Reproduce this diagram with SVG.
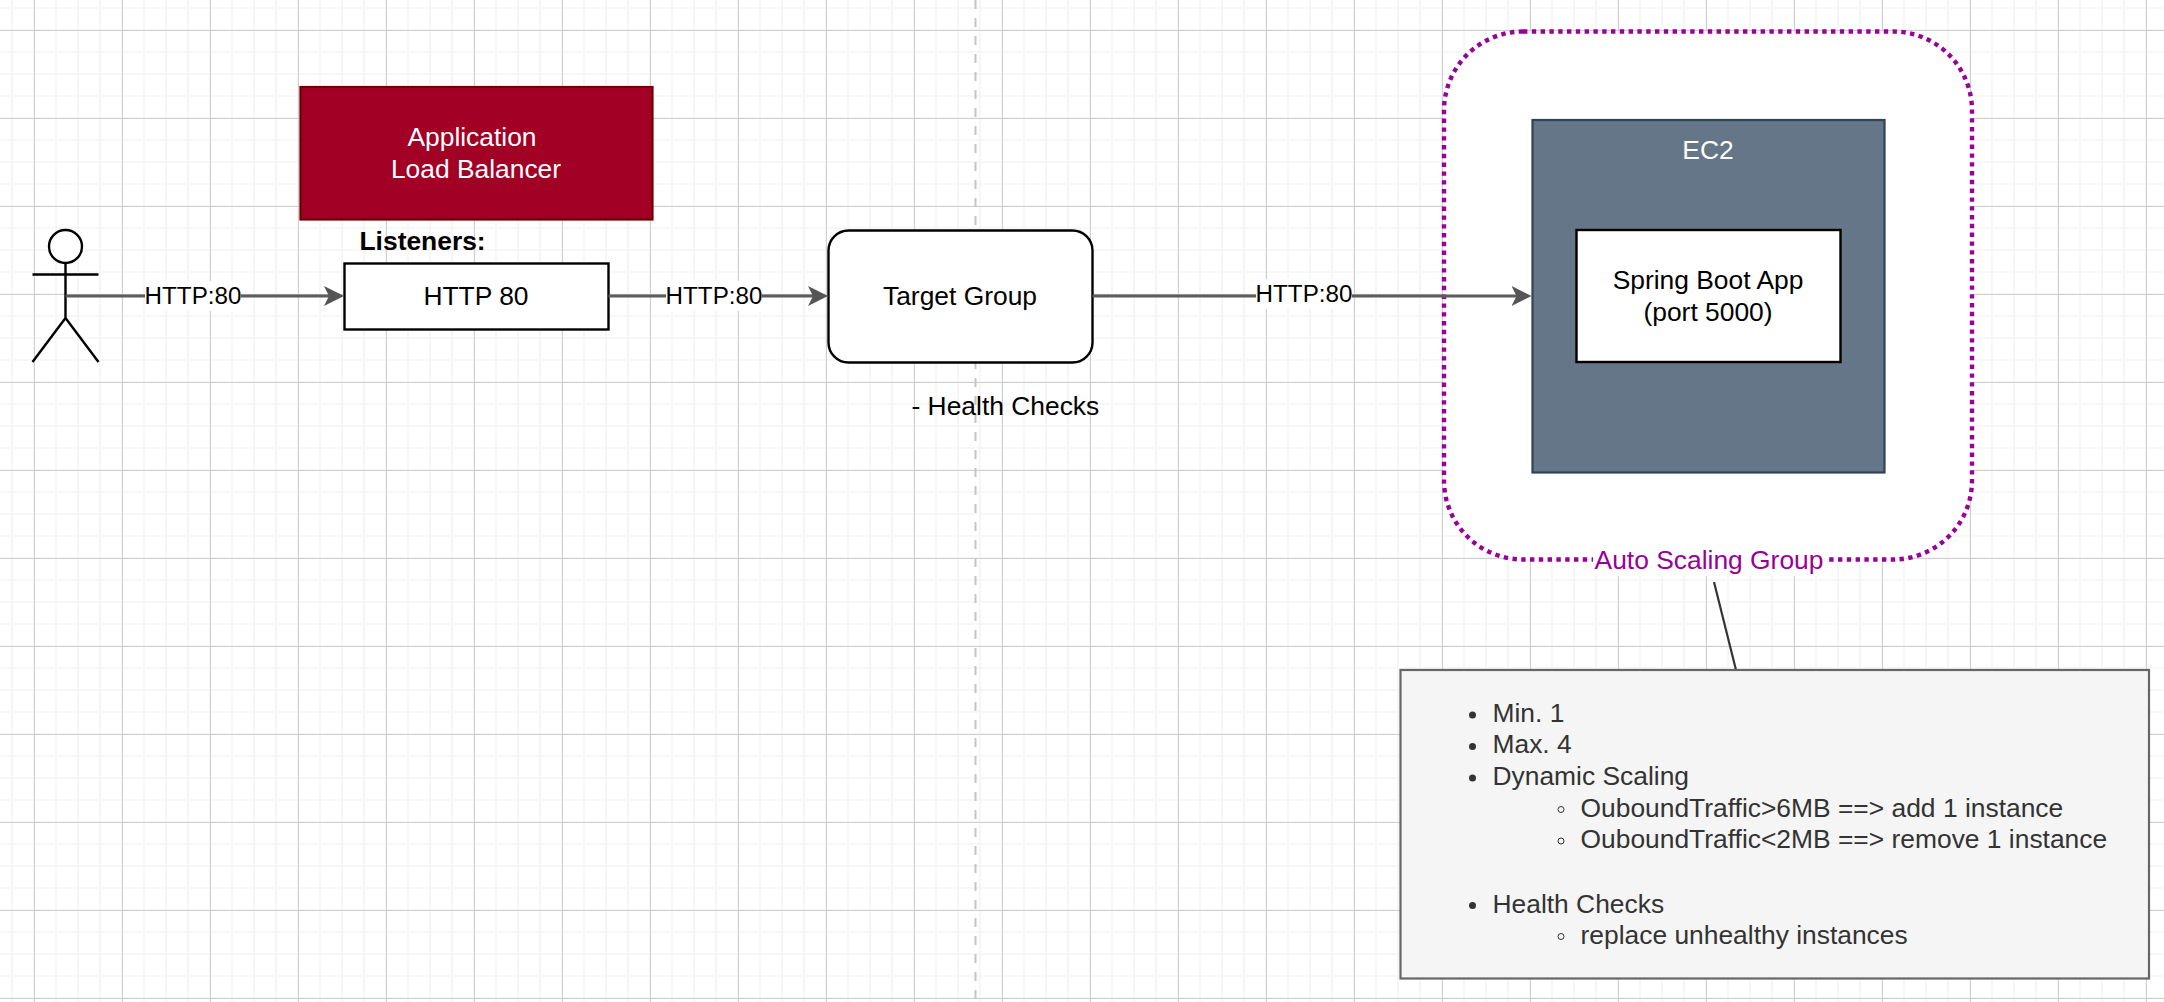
<svg xmlns="http://www.w3.org/2000/svg" width="2164" height="1002" viewBox="0 0 2164 1002">
<style>
text{font-family:"Liberation Sans",Arial,sans-serif;font-size:26.4px;fill:#000}
.c{text-anchor:middle}
.lbl{font-size:24.2px}
.note text{fill:#333}
.box{fill:#fff;stroke:#000;stroke-width:2.4}
.conn{fill:none;stroke:#5c5c5c;stroke-width:2.8}
</style>
<defs>
<pattern id="grid" x="1" y="-3" width="88" height="88" patternUnits="userSpaceOnUse">
<path d="M11 0V88M33 0V88M55 0V88M77 0V88M0 11H88M0 33H88M0 55H88M0 77H88" fill="none" stroke="#f5f5f5" stroke-width="1.7"/>
<path d="M33.500 0V88M0 33.500H88" fill="none" stroke="#cfcfcf" stroke-width="1"/>
</pattern>
<marker id="arrow" markerUnits="userSpaceOnUse" markerWidth="22" markerHeight="22" refX="16" refY="10" orient="auto">
<path d="M0 0L20 10L0 20L5 10Z" fill="#555"/>
</marker>
</defs>
<rect width="2164" height="1002" fill="#fff"/>
<rect width="2164" height="1002" fill="url(#grid)"/>
<line id="divider" x1="975.500" y1="0" x2="975.500" y2="1002" stroke="#c4c4c4" stroke-width="2" stroke-dasharray="9 9"/>
<g id="asg"><rect x="1444" y="31.500" width="528" height="528" rx="79" ry="79" fill="#fff" stroke="#990099" stroke-width="4.400" stroke-dasharray="4.400 4.400"/>
<rect x="1593" y="546" width="232" height="30" fill="#fff"/>
<text x="1709" y="569" class="c" style="fill:#990099">Auto Scaling Group</text></g>
<g id="ec2"><rect x="1532.500" y="120" width="352" height="352.500" fill="#647687" stroke="#314354" stroke-width="2.200"/>
<text x="1708" y="159" class="c" style="fill:#fff">EC2</text></g>
<g id="app"><rect class="box" x="1576.500" y="230" width="264" height="132"/>
<text x="1708" y="289" class="c">Spring Boot App</text><text x="1708" y="321" class="c">(port 5000)</text></g>
<g id="alb"><rect x="300.500" y="87" width="352" height="132.500" fill="#a20025" stroke="#6f0000" stroke-width="2.200"/>
<text x="472" y="146" class="c" style="fill:#fff">Application</text><text x="476" y="178" class="c" style="fill:#fff">Load Balancer</text></g>
<g id="listeners-title"><text x="359.500" y="250" style="font-weight:bold">Listeners:</text></g>
<g id="listener"><rect class="box" x="344.500" y="263.500" width="264" height="66"/>
<text x="476" y="305" class="c">HTTP 80</text></g>
<g id="target-group"><rect class="box" x="828.500" y="230.500" width="264" height="132" rx="20" ry="20"/>
<text x="960" y="305" class="c">Target Group</text></g>
<g id="health-label"><text x="911.500" y="415">- Health Checks</text></g>
<g id="actor" fill="none" stroke="#000" stroke-width="2.400"><ellipse cx="65.500" cy="246.500" rx="16.500" ry="16.500" fill="#fff"/><path d="M65.500 263V318M32.500 274.500H98.500M32.500 362L65.500 318L98.500 362"/></g>
<g id="connectors">
<line class="conn" x1="65.500" y1="296" x2="340" y2="296" marker-end="url(#arrow)"/>
<line class="conn" x1="608.500" y1="296" x2="824" y2="296" marker-end="url(#arrow)"/>
<line class="conn" x1="1092.500" y1="296" x2="1527.500" y2="296" marker-end="url(#arrow)"/>
<line x1="1714" y1="582" x2="1736" y2="670" stroke="#333" stroke-width="2.200"/>
<g><rect x="145" y="281" width="96" height="30" fill="#fff"/><text x="193" y="303.500" class="c lbl">HTTP:80</text></g>
<g><rect x="666" y="281" width="96" height="30" fill="#fff"/><text x="714" y="303.500" class="c lbl">HTTP:80</text></g>
<g><rect x="1256" y="279" width="96" height="30" fill="#fff"/><text x="1304" y="301.500" class="c lbl">HTTP:80</text></g>
</g>
<g id="note" class="note"><rect x="1400.500" y="670" width="748.500" height="308.500" fill="#f5f5f5" stroke="#666" stroke-width="2.200"/>
<circle cx="1472.500" cy="715" r="3.500" fill="#333"/><circle cx="1472.500" cy="746.500" r="3.500" fill="#333"/><circle cx="1472.500" cy="778" r="3.500" fill="#333"/><circle cx="1472.500" cy="905.500" r="3.500" fill="#333"/>
<circle cx="1561" cy="809.500" r="3" fill="none" stroke="#333" stroke-width="1"/><circle cx="1561" cy="841" r="3" fill="none" stroke="#333" stroke-width="1"/><circle cx="1561" cy="936.500" r="3" fill="none" stroke="#333" stroke-width="1"/>
<text x="1492.500" y="721.500">Min. 1</text><text x="1492.500" y="753">Max. 4</text><text x="1492.500" y="784.500">Dynamic Scaling</text>
<text x="1580.500" y="816.500">OuboundTraffic&gt;6MB ==&gt; add 1 instance</text>
<text x="1580.500" y="848">OuboundTraffic&lt;2MB ==&gt; remove 1 instance</text>
<text x="1492.500" y="912.500">Health Checks</text>
<text x="1580.500" y="943.500">replace unhealthy instances</text></g>
</svg>
